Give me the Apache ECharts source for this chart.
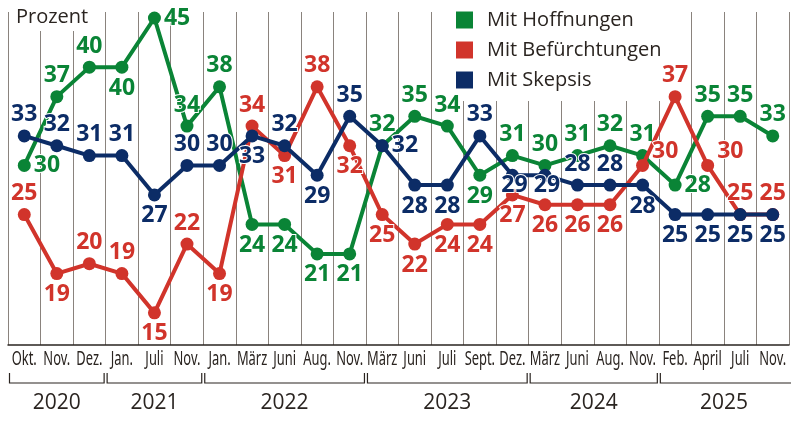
<!DOCTYPE html>
<html>
<head>
<meta charset="utf-8">
<script src="https://cdn.jsdelivr.net/npm/echarts@6/dist/echarts.min.js"></script>
<style>
html, body { margin: 0; padding: 0; background: #fff; }
#chart { width: 791px; height: 423px; }
</style>
</head>
<body>
<div id="chart"></div>
<script>
// Monate (x-Achse)
var months = ['Okt.', 'Nov.', 'Dez.', 'Jan.', 'Juli', 'Nov.', 'Jan.', 'März', 'Juni', 'Aug.', 'Nov.',
	'März', 'Juni', 'Juli', 'Sept.', 'Dez.', 'März', 'Juni', 'Aug.', 'Nov.', 'Feb.', 'April', 'Juli', 'Nov.'];
// Jahre: Beschriftung + erster Monatsindex
var years = ['2020', '2021', '2022', '2023', '2024', '2025'];
var yearStart = [0, 3, 6, 11, 16, 20];

var hoffnungen = [30, 37, 40, 40, 45, 34, 38, 24, 24, 21, 21, 32, 35, 34, 29, 31, 30, 31, 32, 31, 28, 35, 35, 33];
var befuerchtungen = [25, 19, 20, 19, 15, 22, 19, 34, 31, 38, 32, 25, 22, 24, 24, 27, 26, 26, 26, 30, 37, 30, 25, 25];
var skepsis = [33, 32, 31, 31, 27, 30, 30, 33, 32, 29, 35, 32, 28, 28, 33, 29, 29, 28, 28, 28, 25, 25, 25, 25];

// Lage der Zahlen je Punkt (t=oben, b=unten, r=rechts, ru=rechts oben, c=auf dem Punkt)
var hoffPos = ['r','t','t','b','r','t','t','b','b','b','b','t','t','t','b','t','t','t','t','t','r','t','t','t'];
var befPos = ['t','b','t','t','b','t','b','t','b','t','b','b','b','b','b','b','b','b','b','ru','t','ru','t','t'];
var skepPos = ['t','t','t','t','b','t','t','b','t','b','t','r','b','b','t','c','c','t','t','b','b','b','b','b'];

var GREEN = '#0a8436', RED = '#d1342b', BLUE = '#0c2c66', INK = '#2a2420';
var NUMFONT = '"Open Sans", "Noto Sans", sans-serif';

function labelFor(code) {
	var l = {};
	if (code == 't') { l.position = 'top'; }
	else if (code == 'b') { l.position = 'bottom'; }
	else if (code == 'r') { l.position = 'right'; }
	else if (code == 'ru') { l.position = 'right'; l.offset = [0, -14]; }
	else if (code == 'c') { l.position = 'inside'; l.offset = [2, 10]; }
	return l;
}

function makeSeries(name, values, pos, color, z) {
	return {
		name: name,
		type: 'line',
		z: z,
		data: values.map(function (v, i) {
			return { value: v, label: labelFor(pos[i]) };
		}),
		symbol: 'circle',
		symbolSize: 13,
		clip: false,
		lineStyle: { color: color, width: 4 },
		itemStyle: { color: color },
		label: {
			show: true,
			distance: 3,
			color: color,
			fontFamily: NUMFONT,
			fontSize: 23,
			fontWeight: 700,
			textBorderColor: '#fff',
			textBorderWidth: 2
		},
		emphasis: { disabled: true },
		animation: false
	};
}

var chart = echarts.init(document.getElementById('chart'));
var option = {
	animation: false,
	grid: { left: 8, right: 2, top: 12, bottom: 78 },
	legend: {
		orient: 'vertical',
		left: 446,
		top: 0,
		z: 1,
		padding: [10, 4, 11, 10],
		backgroundColor: '#fff',
		icon: 'rect',
		itemWidth: 17,
		itemHeight: 17,
		itemGap: 10,
		selectedMode: false,
		textStyle: { color: INK, fontFamily: NUMFONT, fontSize: 20, padding: [0, 0, 0, 9] },
		data: ['Mit Hoffnungen', 'Mit Befürchtungen', 'Mit Skepsis']
	},
	xAxis: {
		type: 'category',
		data: months,
		boundaryGap: true,
		axisLine: { lineStyle: { color: INK, width: 1.5 } },
		axisTick: { show: false },
		axisLabel: { show: false },  // schmale Monatsnamen werden unten als graphic gezeichnet
		splitLine: { show: true, interval: 0, lineStyle: { color: '#8a837d', width: 1 } }
	},
	yAxis: {
		type: 'value',
		min: 11.73,
		max: 45.61,
		show: false,
		splitLine: { show: false }
	},
	series: [
		makeSeries('Mit Hoffnungen', hoffnungen, hoffPos, GREEN, 2),
		makeSeries('Mit Befürchtungen', befuerchtungen, befPos, RED, 3),
		makeSeries('Mit Skepsis', skepsis, skepPos, BLUE, 4)
	]
};
chart.setOption(option);

// Jahresklammern unter der Achse, aus der Kategorienskala berechnet
function bandEdge(idx) {
	var a = chart.convertToPixel({ xAxisIndex: 0 }, 0);
	var b = chart.convertToPixel({ xAxisIndex: 0 }, 1);
	var w = b - a;
	return a - w / 2 + idx * w;
}
var graphics = [{
	type: 'text',
	left: 14,
	top: 5,
	z: 50,
	style: {
		text: 'Prozent',
		fill: INK,
		font: '20px "Open Sans", "Noto Sans", sans-serif',
		backgroundColor: '#fff',
		padding: [2, 4, 4, 2]
	}
}];
// Monatsnamen, schmal gestaucht
months.forEach(function (m, i) {
	graphics.push({
		type: 'text',
		z: 50,
		x: chart.convertToPixel({ xAxisIndex: 0 }, i),
		y: 360,
		scaleX: 0.68,
		style: {
			text: m,
			fill: INK,
			font: '19px "Noto Sans", sans-serif',
			align: 'center',
			verticalAlign: 'middle'
		}
	});
});
var yTick = 373, yLine = 383;
years.forEach(function (y, i) {
	var x1 = bandEdge(yearStart[i]) + 1.5;
	var endIdx = i + 1 < yearStart.length ? yearStart[i + 1] : months.length;
	var x2 = bandEdge(endIdx) - 1.5;
	var last = i + 1 == years.length;
	if (last) { x2 = 791; }
	graphics.push({
		type: 'polyline',
		z: 50,
		shape: { points: last ? [[x1, yTick], [x1, yLine], [x2, yLine]] : [[x1, yTick], [x1, yLine], [x2, yLine], [x2, yTick]] },
		style: { stroke: INK, lineWidth: 1.2, fill: null }
	});
	var cx = (bandEdge(yearStart[i]) + bandEdge(endIdx)) / 2;
	graphics.push({
		type: 'text',
		z: 50,
		x: cx,
		y: 403,
		style: {
			text: y,
			fill: INK,
			font: '21px "Open Sans", "Noto Sans", sans-serif',
			align: 'center',
			verticalAlign: 'middle'
		}
	});
});
chart.setOption({ graphic: graphics });

window.onresize = function () {
	chart.resize();
};
</script>
</body>
</html>
